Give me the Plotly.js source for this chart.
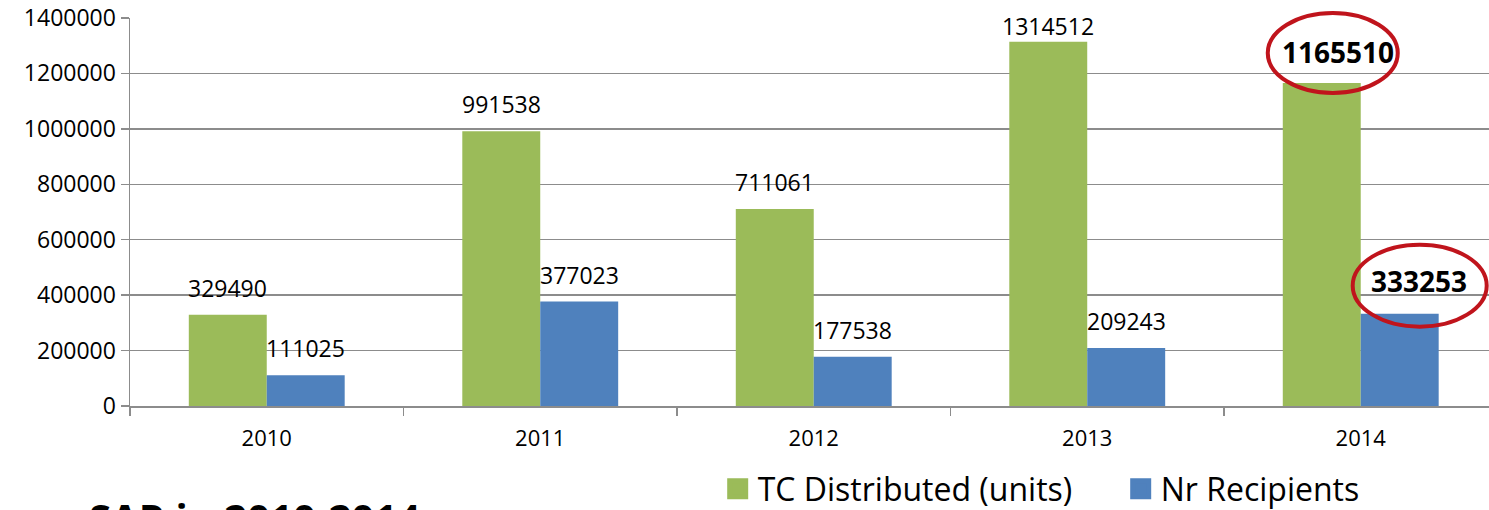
<!DOCTYPE html>
<html>
<head>
<meta charset="utf-8">
<script src="https://cdn.plot.ly/plotly-3.0.1.min.js"></script>
<style>
html,body{margin:0;padding:0;background:#fff;overflow:hidden;}
#chart{width:1489px;height:510px;}
</style>
</head>
<body>
<div id="chart"></div>
<script>
const years = ['2010', '2011', '2012', '2013', '2014'];
const tcDistributed = [329490, 991538, 711061, 1314512, 1165510];
const nrRecipients = [111025, 377023, 177538, 209243, 333253];
const seriesNames = ['TC Distributed (units)', 'Nr Recipients'];
const yTicks = [0, 200000, 400000, 600000, 800000, 1000000, 1200000, 1400000];
const footerText = 'SAR in 2010-2014';

const FONT = 'Open Sans, Noto Sans, sans-serif';
const GREEN = '#9BBB59', BLUE = '#4F81BD', RED = '#C0141C', GRID = '#8c8c8c';
const bargap = 0.43;
const half = (1 - bargap) / 4;
const last = years.length - 1;
const yMax = yTicks[yTicks.length - 1];
const plotH = 510 - 18 - 104;

// bar traces (legend entries drawn by marker-only traces below)
const data = [
  {type: 'bar', x: years, y: tcDistributed, name: seriesNames[0], marker: {color: GREEN}, showlegend: false, hoverinfo: 'skip'},
  {type: 'bar', x: years, y: nrRecipients, name: seriesNames[1], marker: {color: BLUE}, showlegend: false, hoverinfo: 'skip'},
  {type: 'scatter', mode: 'markers', x: [null], y: [null], name: seriesNames[0],
   marker: {symbol: 'square', size: 16, color: GREEN, line: {color: GREEN, width: 5}}},
  {type: 'scatter', mode: 'markers', x: [null], y: [null], name: seriesNames[1],
   marker: {symbol: 'square', size: 16, color: BLUE, line: {color: BLUE, width: 5}}}
];

// value labels
const annotations = [];
function addLabels(values, dx) {
  values.forEach((v, i) => {
    const room = (yMax - v) * plotH / yMax;
    const isLast = i === last;
    annotations.push({
      x: i + dx, y: v, xref: 'x', yref: 'y', showarrow: false,
      text: isLast ? '<b>' + v + '</b>' : String(v),
      xanchor: 'center', yanchor: 'middle',
      xshift: isLast ? (dx < 0 ? 16 : 19) : 0,
      yshift: isLast ? (dx < 0 ? 31 : 33) : Math.min(27, room - 8),
      font: {family: FONT, size: isLast ? 28 : 23, color: '#000'}
    });
  });
}
addLabels(tcDistributed, -half);
addLabels(nrRecipients, half);
annotations.push({
  x: -0.032, y: -0.212, xref: 'paper', yref: 'paper', text: '<b>' + footerText + '</b>',
  showarrow: false, xanchor: 'left', yanchor: 'top',
  font: {family: FONT, size: 40, color: '#000'}
});

const layout = {
  width: 1489, height: 510,
  margin: {l: 130, r: 0, t: 18, b: 104},
  paper_bgcolor: '#fff', plot_bgcolor: '#fff',
  barmode: 'group', bargap: bargap, bargroupgap: 0,
  font: {family: FONT, size: 23, color: '#000'},
  xaxis: {
    type: 'category', range: [-0.5, 4.469], tickson: 'boundaries',
    ticks: 'outside', ticklen: 8, tickcolor: GRID, tickwidth: 1.5,
    showline: true, linecolor: GRID, linewidth: 1.5, showgrid: false,
    tickfont: {family: FONT, size: 22, color: '#000'}, ticklabelstandoff: 12, fixedrange: true
  },
  yaxis: {
    range: [0, yMax], tickvals: yTicks, ticktext: yTicks.map(String),
    ticks: 'outside', ticklen: 8, tickcolor: GRID, tickwidth: 1.5,
    showline: true, linecolor: GRID, linewidth: 1.5,
    showgrid: true, gridcolor: GRID, gridwidth: 1.5, zeroline: false,
    tickfont: {family: FONT, size: 23, color: '#000'}, fixedrange: true
  },
  legend: {
    orientation: 'h', xref: 'container', yref: 'container',
    x: 0.482, xanchor: 'left', y: 0.095, yanchor: 'top',
    font: {family: FONT, size: 32, color: '#000'},
    entrywidth: 358, entrywidthmode: 'pixels', bgcolor: 'rgba(0,0,0,0)'
  },
  annotations: annotations,
  shapes: [
    {type: 'circle', xref: 'x', yref: 'paper', xsizemode: 'pixel', ysizemode: 'pixel',
     xanchor: last - half, yanchor: tcDistributed[last] / yMax, x0: -54, x1: 76, y0: -10, y1: 70,
     line: {color: RED, width: 4}, fillcolor: 'rgba(0,0,0,0)'},
    {type: 'circle', xref: 'x', yref: 'paper', xsizemode: 'pixel', ysizemode: 'pixel',
     xanchor: last + half, yanchor: nrRecipients[last] / yMax, x0: -47, x1: 87, y0: -13, y1: 69,
     line: {color: RED, width: 4}, fillcolor: 'rgba(0,0,0,0)'}
  ]
};

Plotly.newPlot('chart', data, layout, {displayModeBar: false, staticPlot: true});
</script>
</body>
</html>
